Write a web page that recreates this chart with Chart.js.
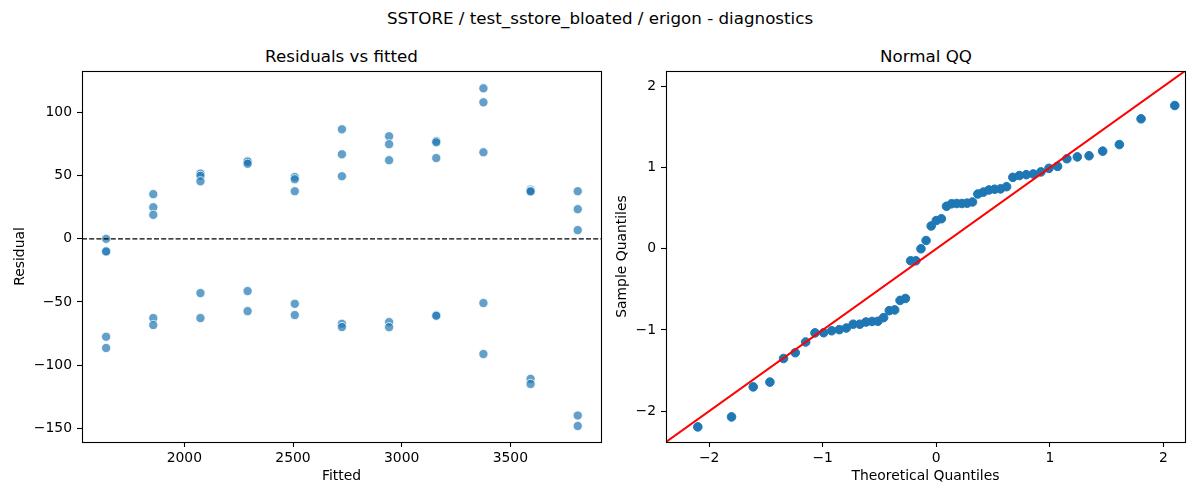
<!DOCTYPE html>
<html>
<head>
<meta charset="utf-8">
<title>SSTORE diagnostics</title>
<script src="https://cdn.jsdelivr.net/npm/chart.js@4.4.1/dist/chart.umd.min.js"></script>
<style>
  body { margin: 0; background: #fff; width: 1200px; height: 500px; overflow: hidden; position: relative; font-family: "DejaVu Sans", sans-serif; color: #000; }
  .txt { position: absolute; font-size: 16.7px; line-height: 16.7px; white-space: nowrap; transform: translateX(-50%); }
  .box { position: absolute; }
</style>
</head>
<body>
<div class="txt" style="left:600px; top:10px;">SSTORE / test_sstore_bloated / erigon - diagnostics</div>
<div class="txt" style="left:341.5px; top:48px;">Residuals vs fitted</div>
<div class="txt" style="left:926px; top:48px;">Normal QQ</div>
<div class="box" style="left:0; top:61px; width:611px; height:439px;"><canvas id="resid"></canvas></div>
<div class="box" style="left:611px; top:61px; width:589px; height:439px;"><canvas id="qq"></canvas></div>
<script>
// residuals vs fitted (5 runs per fitted level)
const fittedValues = [
  1640, 1640, 1640, 1640, 1640,
  1857, 1857, 1857, 1857, 1857,
  2074, 2074, 2074, 2074, 2074,
  2291, 2291, 2291, 2291, 2291,
  2508, 2508, 2508, 2508, 2508,
  2725, 2725, 2725, 2725, 2725,
  2942, 2942, 2942, 2942, 2942,
  3159, 3159, 3159, 3159, 3159,
  3376, 3376, 3376, 3376, 3376,
  3593, 3593, 3593, 3593, 3593,
  3810, 3810, 3810, 3810, 3810
];
const residualValues = [
  0, -10, -10, -77.6, -86.5,
  35.4, 25, 19, -62.8, -68.3,
  51.7, 49.9, 45.6, -43, -62.8,
  61.7, 61, 59.5, -41.4, -57.3,
  49, 47.2, 37.7, -51.5, -60.4,
  86.8, 67, 49.6, -67.3, -69.9,
  81.3, 75, 62.3, -66, -70,
  77.5, 76.5, 64, -60.5, -61,
  119.3, 108.2, 68.6, -50.9, -91.3,
  39, 38, 37.5, -111, -115,
  37.7, 23.5, 6.9, -140, -148.3
];
const fittedTicks = [2000, 2500, 3000, 3500];
const residualTicks = [-150, -100, -50, 0, 50, 100];

// normal QQ
const theoreticalQ = [
  -2.100, -1.803, -1.612, -1.465, -1.345, -1.242, -1.150, -1.068, -0.992, -0.921,
  -0.854, -0.792, -0.732, -0.674, -0.619, -0.566, -0.514, -0.464, -0.414, -0.366,
  -0.319, -0.272, -0.226, -0.180, -0.135, -0.090, -0.045, 0.000, 0.045, 0.090,
  0.135, 0.180, 0.226, 0.272, 0.319, 0.366, 0.414, 0.464, 0.514, 0.566,
  0.619, 0.674, 0.732, 0.792, 0.854, 0.921, 0.992, 1.068, 1.150, 1.242,
  1.345, 1.465, 1.612, 1.803, 2.100
];
const sampleQ = [
  -2.194, -2.071, -1.701, -1.642, -1.351, -1.280, -1.148, -1.036, -1.034, -1.010,
  -0.996, -0.976, -0.929, -0.929, -0.902, -0.895, -0.893, -0.848, -0.762, -0.753,
  -0.636, -0.612, -0.148, -0.148, 0.000, 0.102, 0.281, 0.348, 0.370, 0.524,
  0.555, 0.558, 0.558, 0.562, 0.577, 0.675, 0.698, 0.725, 0.734, 0.738,
  0.765, 0.880, 0.902, 0.913, 0.922, 0.947, 0.991, 1.015, 1.109, 1.132,
  1.146, 1.203, 1.284, 1.601, 1.765
];
const qqTicks = [-2, -1, 0, 1, 2];
const qqLimits = [-2.38, 2.19];

Chart.defaults.font.family = '"DejaVu Sans", sans-serif';
Chart.defaults.font.size = 13.9;
Chart.defaults.color = '#000';
Chart.defaults.animation = false;

const minus = v => String(v).replace('-', '\u2212');

function axis(opts) {
  return {
    type: 'linear',
    min: opts.min,
    max: opts.max,
    afterBuildTicks: s => { s.ticks = opts.ticks.map(v => ({ value: v })); },
    afterFit: s => {
      if (opts.width) s.width = opts.width;
      if (opts.height) s.height = opts.height;
      // keep tick labels from pushing the plot area around
      s.paddingTop = 0; s.paddingBottom = 0; s.paddingLeft = 0; s.paddingRight = 0;
    },
    border: { display: false },
    grid: { drawOnChartArea: false, drawTicks: true, tickLength: 5, tickColor: '#000', tickWidth: 1.1 },
    ticks: { autoSkip: false, maxRotation: 0, padding: opts.tickPad, callback: minus },
    title: { display: true, text: opts.title, font: { size: 13.9 }, padding: opts.titlePad }
  };
}

// box around the axes + optional dashed zero line
const frame = {
  id: 'frame',
  afterDatasetsDraw(chart, args, o) {
    const { ctx, chartArea: a } = chart;
    ctx.save();
    if (o.zeroLine) {
      const y = chart.scales.y.getPixelForValue(0);
      ctx.strokeStyle = '#000';
      ctx.lineWidth = 1.3;
      ctx.setLineDash([5, 2.2]);
      ctx.beginPath();
      ctx.moveTo(a.left, y);
      ctx.lineTo(a.right, y);
      ctx.stroke();
    }
    ctx.setLineDash([]);
    ctx.strokeStyle = '#000';
    ctx.lineWidth = 1.1;
    ctx.strokeRect(Math.round(a.left) + 0.5, Math.round(a.top) + 0.5,
      Math.round(a.right - a.left), Math.round(a.bottom - a.top));
    ctx.restore();
  }
};

new Chart(document.getElementById('resid'), {
  type: 'scatter',
  data: {
    datasets: [{
      data: fittedValues.map((f, i) => ({ x: f, y: residualValues[i] })),
      backgroundColor: 'rgba(31,119,180,0.7)',
      borderColor: 'rgba(255,255,255,0.85)',
      borderWidth: 0.9,
      pointRadius: 4.6
    }]
  },
  options: {
    responsive: true,
    maintainAspectRatio: false,
    events: [],
    layout: { padding: { top: 10, right: 10, left: 0, bottom: 0 } },
    plugins: { legend: { display: false }, tooltip: { enabled: false }, frame: { zeroLine: true } },
    scales: {
      x: axis({ min: 1529, max: 3917, ticks: fittedTicks, title: 'Fitted', height: 58, tickPad: 3, titlePad: { top: 0, bottom: 15 } }),
      y: axis({ min: -161, max: 133, ticks: residualTicks, title: 'Residual', width: 82, tickPad: 5, titlePad: { top: 12.5, bottom: 0 } })
    }
  },
  plugins: [frame]
});

new Chart(document.getElementById('qq'), {
  type: 'scatter',
  data: {
    datasets: [
      {
        type: 'line',
        data: [{ x: -3, y: -3 }, { x: 3, y: 3 }],
        borderColor: '#ff0000',
        borderWidth: 2,
        pointRadius: 0,
        fill: false,
        order: 0
      },
      {
        data: theoreticalQ.map((t, i) => ({ x: t, y: sampleQ[i] })),
        backgroundColor: '#1f77b4',
        borderColor: '#1f77b4',
        borderWidth: 1,
        pointRadius: 4.3,
        order: 1
      }
    ]
  },
  options: {
    responsive: true,
    maintainAspectRatio: false,
    events: [],
    layout: { padding: { top: 10, right: 15, left: 0, bottom: 0 } },
    plugins: { legend: { display: false }, tooltip: { enabled: false }, frame: { zeroLine: false } },
    scales: {
      x: axis({ min: qqLimits[0], max: qqLimits[1], ticks: qqTicks, title: 'Theoretical Quantiles', height: 58, tickPad: 3, titlePad: { top: 0, bottom: 15 } }),
      y: axis({ min: qqLimits[0], max: qqLimits[1], ticks: qqTicks, title: 'Sample Quantiles', width: 55, tickPad: 5, titlePad: { top: 2.7, bottom: 0 } })
    }
  },
  plugins: [frame]
});
</script>
</body>
</html>
